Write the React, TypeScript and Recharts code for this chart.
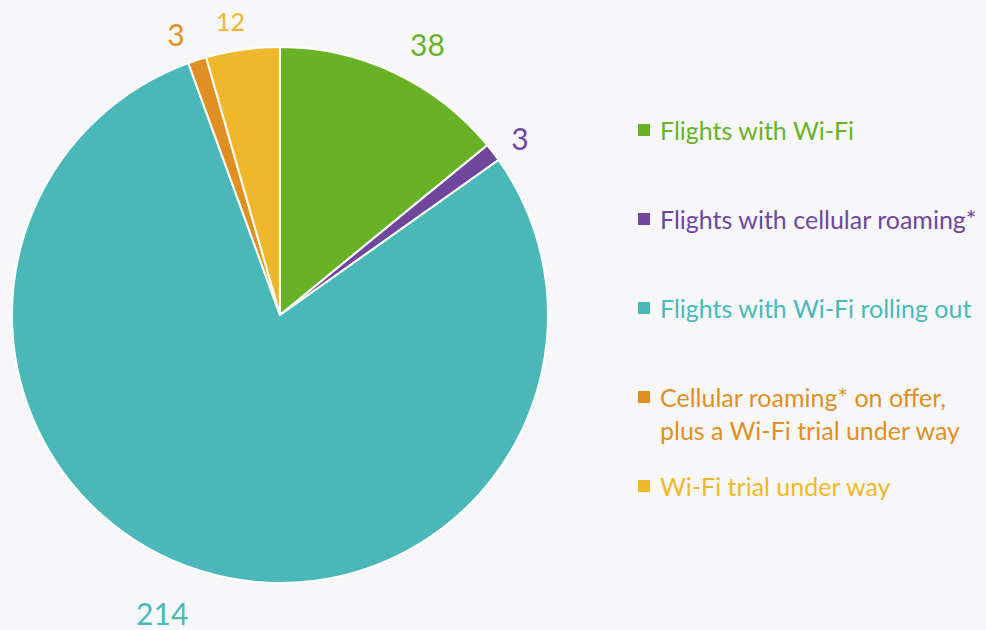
import React from "react";
import { PieChart, Pie, Cell, Legend } from "recharts";

const categories = [
  "Flights with Wi-Fi",
  "Flights with cellular roaming*",
  "Flights with Wi-Fi rolling out",
  "Cellular roaming* on offer,\nplus a Wi-Fi trial under way",
  "Wi-Fi trial under way",
];
const values = [38, 3, 214, 3, 12];
const colors = ["#69b225", "#6e479c", "#4ab8b8", "#e08f22", "#efb72b"];

const data = categories.map((name, i) => ({ name, value: values[i] }));

const FONT = "Lato, 'Open Sans', sans-serif";
const RAD = Math.PI / 180;
const labelOffset = 30;
const labelNudges = [
  [20, -2],
  [3, 4],
  [-29, 14],
  [-12, 2],
  [-8, 1],
];
const labelSizes = [30, 30, 30, 30, 25];

const renderLabel = (props: any) => {
  const { cx, cy, midAngle, outerRadius, index, value } = props;
  const r = outerRadius + labelOffset;
  const x = cx + r * Math.cos(-midAngle * RAD) + labelNudges[index][0];
  const y = cy + r * Math.sin(-midAngle * RAD) + labelNudges[index][1];
  return (
    <text
      x={x}
      y={y}
      fill={colors[index]}
      textAnchor="middle"
      dominantBaseline="central"
      style={{ fontFamily: FONT, fontSize: labelSizes[index] }}
    >
      {value}
    </text>
  );
};

const renderLegend = () => {
  return (
    <div style={{ fontFamily: FONT }}>
      {categories.map((name, i) => (
        <div
          key={i}
          style={{
            position: "relative",
            height: 89,
            color: colors[i],
            fontSize: 25,
            lineHeight: "33px",
          }}
        >
          <div
            style={{
              position: "absolute",
              left: 0,
              top: 10,
              width: 12,
              height: 12,
              background: colors[i],
            }}
          />
          <div style={{ position: "absolute", left: 22, top: 0, whiteSpace: "pre" }}>
            {name}
          </div>
        </div>
      ))}
    </div>
  );
};

export default function App() {
  return (
    <div
      style={{
        position: "absolute",
        left: 0,
        top: 0,
        width: 986,
        height: 630,
        background: "#f7f7fa",
      }}
    >
      <PieChart width={986} height={630} margin={{ top: 0, right: 0, bottom: 0, left: 0 }}>
        <Pie
          data={data}
          dataKey="value"
          nameKey="name"
          cx={280}
          cy={315}
          outerRadius={268}
          startAngle={90}
          endAngle={-270}
          stroke="#ffffff"
          strokeWidth={2}
          label={renderLabel}
          labelLine={false}
          isAnimationActive={false}
        >
          {data.map((_, i) => (
            <Cell key={i} fill={colors[i]} />
          ))}
        </Pie>
        <Legend
          layout="vertical"
          content={renderLegend}
          wrapperStyle={{ left: 638, top: 114, width: 348, height: 460 }}
        />
      </PieChart>
    </div>
  );
}
